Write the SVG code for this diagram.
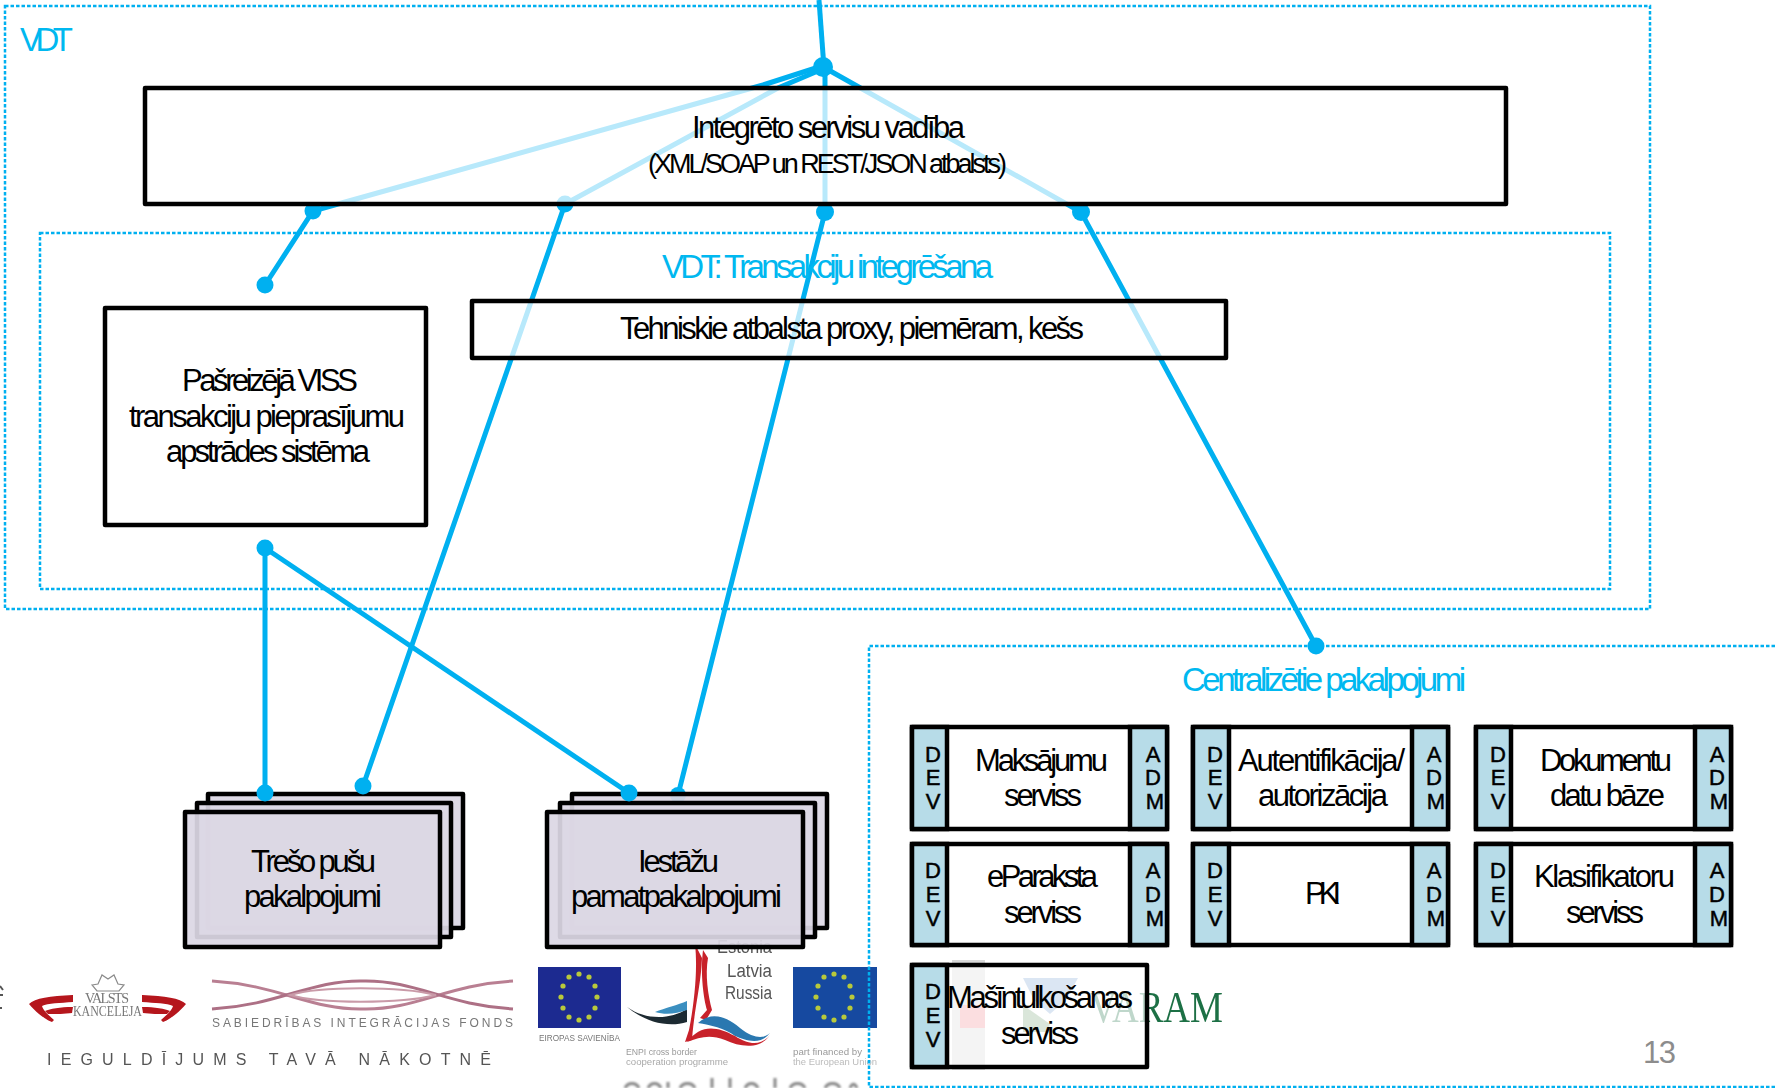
<svg xmlns="http://www.w3.org/2000/svg" width="1775" height="1088" viewBox="0 0 1775 1088">
<defs>
<filter id="soft" x="-5%" y="-5%" width="110%" height="110%"><feGaussianBlur stdDeviation="0.7"/></filter>
<filter id="softer" x="-5%" y="-40%" width="110%" height="180%"><feGaussianBlur stdDeviation="1.3"/></filter>
<g id="stars" fill="#b9c93a"><circle cx="0" cy="-23" r="2.6"/><circle cx="10" cy="-20" r="2.6"/><circle cx="-10" cy="-20" r="2.6"/><circle cx="16" cy="-11" r="2.6"/><circle cx="-16" cy="-11" r="2.6"/><circle cx="18" cy="0" r="2.6"/><circle cx="-18" cy="0" r="2.6"/><circle cx="16" cy="11" r="2.6"/><circle cx="-16" cy="11" r="2.6"/><circle cx="10" cy="20" r="2.6"/><circle cx="-10" cy="20" r="2.6"/><circle cx="0" cy="23" r="2.6"/></g>
<g id="chevron" fill="#b5121b"><path d="M73 995C50 996 35 998 29 1004C36 1012 44 1019 52 1022L54 1020C47 1014 43 1010 42 1006C48 1003 60 1003 73 1002Z"/><path d="M73 1007C60 1007 50 1009 45 1011L48 1014C55 1014 65 1014 72 1013Z"/></g>
</defs>
<style>
text{font-family:"Liberation Sans",Arial,sans-serif;fill:#000}
.zone{fill:none;stroke:#00b0f0;stroke-width:2.5;stroke-dasharray:3.5 2}
.cap{fill:#00b8f0;font-size:33px}
.box{fill:#fff;fill-opacity:.72;stroke:#000;stroke-width:4.5;stroke-linejoin:round}
.card{fill:#dcd7e4;fill-opacity:.93;stroke:#000;stroke-width:4.5;stroke-linejoin:round}
.svc{fill:#fff;fill-opacity:.8;stroke:#000;stroke-width:4.5;stroke-linejoin:round}
.strip{fill:#b7dce8;stroke:#000;stroke-width:4.5}
.t{font-size:31px}
.s{font-size:27px}
.l{font-size:22px;text-anchor:middle;stroke:#000;stroke-width:.5}
.conn{fill:none;stroke:#00b0f0;stroke-width:5}
.dot{fill:#00b0f0}
.g{fill:#777}
.lg{fill:#555}
</style>

<g id="logos">
<path id="logo-edge" d="M0 986L3 990M0 995H3M0 1008H2" fill="none" stroke="#555" stroke-width="2" filter="url(#soft)"/>
<g id="logo-kanceleja" filter="url(#soft)">
<use href="#chevron"/>
<use href="#chevron" transform="translate(215 0) scale(-1 1)"/>
<path d="M92 985L98 984L102 975L108 979L114 975L118 984L124 985L119 991H97Z" fill="none" stroke="#8a8a8a" stroke-width="1.2"/>
<text x="85" y="1003" font-size="14" class="g" style="font-family:'Liberation Serif',serif" textLength="44" lengthAdjust="spacing">VALSTS</text>
<text x="73" y="1016" font-size="14" class="g" style="font-family:'Liberation Serif',serif" textLength="69" lengthAdjust="spacingAndGlyphs">KANCELEJA</text>
</g>
<g id="logo-sif" filter="url(#soft)">
<path d="M212 981C280 985 310 1010 363 1009C416 1010 446 985 513 981" fill="none" stroke="#b97f92" stroke-width="3"/>
<path d="M212 1009C280 1005 310 980 363 981C416 980 446 1005 513 1009" fill="none" stroke="#ad7085" stroke-width="3"/>
<path d="M290 995C320 986 400 986 436 995C400 1004 320 1004 290 995Z" fill="none" stroke="#c99aa8" stroke-width="2"/>
<text x="212" y="1027" font-size="12" class="g" textLength="301" lengthAdjust="spacing">SABIEDRĪBAS INTEGRĀCIJAS FONDS</text>
</g>
<text id="logo-motto" x="47" y="1065" font-size="16" class="lg" textLength="444" lengthAdjust="spacing" filter="url(#soft)">IEGULDĪJUMS TAVĀ NĀKOTNĒ</text>
<g id="logo-eu1" filter="url(#soft)">
<rect x="538" y="967" width="83" height="61" fill="#1c2a90"/>
<use href="#stars" transform="translate(579 997)"/>
<text x="539" y="1041" font-size="8.5" class="g" textLength="81" lengthAdjust="spacingAndGlyphs">EIROPAS SAVIENĪBA</text>
</g>
<g id="logo-enpi" filter="url(#soft)">
<path d="M627 1007C645 1020 670 1020 687 1009L687 1022C668 1028 645 1022 627 1007Z" fill="#1f2a30"/>
<path d="M655 1012C665 1008 678 1005 687 1001L687 1010C676 1014 665 1015 655 1012Z" fill="#3a8fc0"/>
<path d="M695 944C698 970 694 1005 689 1030L685 1042L692 1040C694 1010 701 985 702 958Z" fill="#c8202c"/>
<path d="M703 950C700 975 704 1000 707 1010L700 1018L706 1020L712 1010C708 995 705 975 708 958Z" fill="#c8202c"/>
<path d="M698 1023C710 1012 725 1015 740 1028C755 1040 765 1038 770 1033C760 1046 745 1040 735 1036C725 1028 710 1025 698 1023Z" fill="#2a78b0"/>
<path d="M687 1042C700 1025 715 1025 735 1036C750 1046 762 1045 770 1035C760 1050 740 1047 725 1040C710 1034 700 1037 687 1042Z" fill="#c8202c"/>
<text x="717" y="953" font-size="18" class="lg" textLength="55" lengthAdjust="spacingAndGlyphs">Estonia</text>
<text x="727" y="977" font-size="18" class="lg" textLength="45" lengthAdjust="spacingAndGlyphs">Latvia</text>
<text x="725" y="999" font-size="18" class="lg" textLength="47" lengthAdjust="spacingAndGlyphs">Russia</text>
<text x="626" y="1055" font-size="9.5" style="fill:#999" textLength="71" lengthAdjust="spacingAndGlyphs">ENPI cross border</text>
<text x="626" y="1065" font-size="9.5" style="fill:#aaa" textLength="102" lengthAdjust="spacingAndGlyphs">cooperation programme</text>
</g>
<g id="logo-eu2" filter="url(#soft)">
<rect x="793" y="967" width="84" height="61" fill="#124aa0"/>
<use href="#stars" transform="translate(834 997)"/>
<text x="793" y="1055" font-size="9.5" style="fill:#999" textLength="69" lengthAdjust="spacingAndGlyphs">part financed by</text>
<text x="793" y="1065" font-size="9.5" style="fill:#bbb" textLength="84" lengthAdjust="spacingAndGlyphs">the European Union</text>
</g>
<path id="logo-cropped" d="M625 1088C628 1082 636 1082 639 1088M648 1088C651 1082 658 1082 661 1088M668 1082V1088M680 1088C683 1082 692 1082 695 1088M712 1078V1088M730 1078V1088M745 1088C748 1082 755 1082 758 1088M775 1078V1088M790 1088C793 1082 802 1082 805 1088M825 1088C828 1082 837 1082 840 1088M850 1088C852 1083 855 1083 857 1088" fill="none" stroke="#888" stroke-width="3" filter="url(#softer)"/>
<g id="logo-varam" filter="url(#soft)">
<path d="M952 960H985V1070H952Z" fill="#d8d8d8"/>
<rect x="960" y="1005" width="25" height="23" fill="#f08a90"/>
<path d="M1023 978H1078L1066 1000L1050 1014L1034 1000Z" fill="#7ea6d4"/>
<path d="M1023 1005L1050 1024L1048 1032H1023Z" fill="#7ba77b"/>
<text x="1090" y="1022" font-size="44" style="fill:#1f6f45;font-family:'Liberation Serif',serif" textLength="133" lengthAdjust="spacingAndGlyphs">VARAM</text>
</g>
</g>

<rect class="zone" x="5" y="6" width="1645" height="603"/>
<rect class="zone" x="40" y="233" width="1570" height="356"/>
<path class="zone" d="M1775 646H869V1087H1775"/>

<g id="connectors">
<path class="conn" d="M819 0L824 68"/>
<path class="conn" d="M822 66L763 85L313 211L265 285"/>
<path class="conn" d="M825 68L778 88L565 204L363 786"/>
<path class="conn" d="M825 68V212L678 795"/>
<path class="conn" d="M825 68L1081 212L1316 646"/>
<path class="conn" d="M265 548V793"/>
<path class="conn" d="M265 548L629 793"/>
<circle class="dot" cx="823" cy="67" r="10"/>
<circle class="dot" cx="313" cy="211" r="8.5"/>
<circle class="dot" cx="565" cy="204" r="8.5"/>
<circle class="dot" cx="825" cy="212" r="9"/>
<circle class="dot" cx="1081" cy="212" r="9"/>
<circle class="dot" cx="678" cy="795" r="8"/>
</g>

<g id="node-integrated"><rect class="box" x="145" y="88" width="1361" height="116"/>
<text class="t" x="692" y="138" textLength="273" lengthAdjust="spacing">Integrēto servisu vadība</text>
<text class="s" x="648" y="173" textLength="359" lengthAdjust="spacing">(XML/SOAP un REST/JSON atbalsts)</text></g>

<text class="cap" x="20" y="51" textLength="53" lengthAdjust="spacing">VDT</text>
<text class="cap" x="662" y="278" textLength="331" lengthAdjust="spacing">VDT: Transakciju integrēšana</text>

<g id="node-proxy"><rect class="box" x="472" y="301" width="754" height="57"/>
<text class="t" x="620" y="339" textLength="464" lengthAdjust="spacing">Tehniskie atbalsta proxy, piemēram, kešs</text></g>

<g id="node-viss"><rect class="box" x="105" y="308" width="321" height="217" style="fill-opacity:1"/>
<text class="t" x="182" y="391" textLength="176" lengthAdjust="spacing">Pašreizējā VISS</text>
<text class="t" x="129" y="427" textLength="276" lengthAdjust="spacing">transakciju pieprasījumu</text>
<text class="t" x="166" y="462" textLength="204" lengthAdjust="spacing">apstrādes sistēma</text></g>

<g id="node-third-party">
<rect class="card" x="208" y="794" width="255" height="134"/>
<rect class="card" x="197" y="803" width="254" height="134"/>
<rect class="card" x="185" y="812" width="255" height="135"/>
<text class="t" x="251" y="872" textLength="125" lengthAdjust="spacing">Trešo pušu</text>
<text class="t" x="244" y="907" textLength="138" lengthAdjust="spacing">pakalpojumi</text></g>

<g id="node-base">
<rect class="card" x="572" y="794" width="255" height="134"/>
<rect class="card" x="560" y="803" width="255" height="134"/>
<rect class="card" x="547" y="812" width="256" height="135"/>
<text class="t" x="638" y="872" textLength="81" lengthAdjust="spacing">Iestāžu</text>
<text class="t" x="571" y="907" textLength="211" lengthAdjust="spacing">pamatpakalpojumi</text></g>

<g id="connector-ends">
<circle class="dot" cx="265" cy="285" r="8.5"/>
<circle class="dot" cx="265" cy="548" r="8.5"/>
<circle class="dot" cx="265" cy="793" r="8.5"/>
<circle class="dot" cx="363" cy="786" r="8.5"/>
<circle class="dot" cx="629" cy="793" r="8.5"/>
<circle class="dot" cx="1316" cy="646" r="8.5"/>
</g>

<text class="cap" x="1182" y="691" textLength="284" lengthAdjust="spacing">Centralizētie pakalpojumi</text>

<g id="node-maksajumu"><rect class="svc" x="912" y="727" width="255" height="102"/><rect class="strip" x="912" y="727" width="35" height="102"/><rect class="strip" x="1130" y="727" width="37" height="102"/>
<text class="l" x="933" y="762">D</text><text class="l" x="933" y="785">E</text><text class="l" x="933" y="809">V</text>
<text class="l" x="1153" y="762">A</text><text class="l" x="1153" y="785">D</text><text class="l" x="1155" y="809">M</text>
<text class="t" x="975" y="771" textLength="133" lengthAdjust="spacing">Maksājumu</text><text class="t" x="1004" y="806" textLength="78" lengthAdjust="spacing">serviss</text></g>

<g id="node-autentifikacija"><rect class="svc" x="1193" y="727" width="255" height="102"/><rect class="strip" x="1193" y="727" width="36" height="102"/><rect class="strip" x="1412" y="727" width="36" height="102"/>
<text class="l" x="1215" y="762">D</text><text class="l" x="1215" y="785">E</text><text class="l" x="1215" y="809">V</text>
<text class="l" x="1434" y="762">A</text><text class="l" x="1434" y="785">D</text><text class="l" x="1436" y="809">M</text>
<text class="t" x="1238" y="771" textLength="167" lengthAdjust="spacing">Autentifikācija/</text><text class="t" x="1258" y="806" textLength="130" lengthAdjust="spacing">autorizācija</text></g>

<g id="node-dokumentu"><rect class="svc" x="1476" y="727" width="255" height="102"/><rect class="strip" x="1476" y="727" width="35" height="102"/><rect class="strip" x="1695" y="727" width="36" height="102"/>
<text class="l" x="1498" y="762">D</text><text class="l" x="1498" y="785">E</text><text class="l" x="1498" y="809">V</text>
<text class="l" x="1717" y="762">A</text><text class="l" x="1717" y="785">D</text><text class="l" x="1719" y="809">M</text>
<text class="t" x="1540" y="771" textLength="132" lengthAdjust="spacing">Dokumentu</text><text class="t" x="1550" y="806" textLength="115" lengthAdjust="spacing">datu bāze</text></g>

<g id="node-eparaksta"><rect class="svc" x="912" y="844" width="255" height="101"/><rect class="strip" x="912" y="844" width="35" height="101"/><rect class="strip" x="1130" y="844" width="37" height="101"/>
<text class="l" x="933" y="878">D</text><text class="l" x="933" y="902">E</text><text class="l" x="933" y="926">V</text>
<text class="l" x="1153" y="878">A</text><text class="l" x="1153" y="902">D</text><text class="l" x="1155" y="926">M</text>
<text class="t" x="987" y="887" textLength="111" lengthAdjust="spacing">eParaksta</text><text class="t" x="1004" y="923" textLength="78" lengthAdjust="spacing">serviss</text></g>

<g id="node-pki"><rect class="svc" x="1193" y="844" width="255" height="101"/><rect class="strip" x="1193" y="844" width="36" height="101"/><rect class="strip" x="1412" y="844" width="36" height="101"/>
<text class="l" x="1215" y="878">D</text><text class="l" x="1215" y="902">E</text><text class="l" x="1215" y="926">V</text>
<text class="l" x="1434" y="878">A</text><text class="l" x="1434" y="902">D</text><text class="l" x="1436" y="926">M</text>
<text class="t" x="1305" y="904" textLength="36" lengthAdjust="spacing">PKI</text></g>

<g id="node-klasifikatoru"><rect class="svc" x="1476" y="844" width="255" height="101"/><rect class="strip" x="1476" y="844" width="35" height="101"/><rect class="strip" x="1695" y="844" width="36" height="101"/>
<text class="l" x="1498" y="878">D</text><text class="l" x="1498" y="902">E</text><text class="l" x="1498" y="926">V</text>
<text class="l" x="1717" y="878">A</text><text class="l" x="1717" y="902">D</text><text class="l" x="1719" y="926">M</text>
<text class="t" x="1534" y="887" textLength="141" lengthAdjust="spacing">Klasifikatoru</text><text class="t" x="1566" y="923" textLength="78" lengthAdjust="spacing">serviss</text></g>

<g id="node-masintulkosanas"><rect class="svc" x="912" y="965" width="235" height="102" style="fill-opacity:.72"/><rect class="strip" x="912" y="965" width="35" height="102"/>
<text class="l" x="933" y="999">D</text><text class="l" x="933" y="1023">E</text><text class="l" x="933" y="1047">V</text>
<text class="t" x="947" y="1008" textLength="186" lengthAdjust="spacing">Mašīntulkošanas</text><text class="t" x="1001" y="1044" textLength="78" lengthAdjust="spacing">serviss</text></g>

<text x="1643" y="1063" font-size="31" style="fill:#8c8c8c" textLength="33" lengthAdjust="spacing">13</text>
</svg>
